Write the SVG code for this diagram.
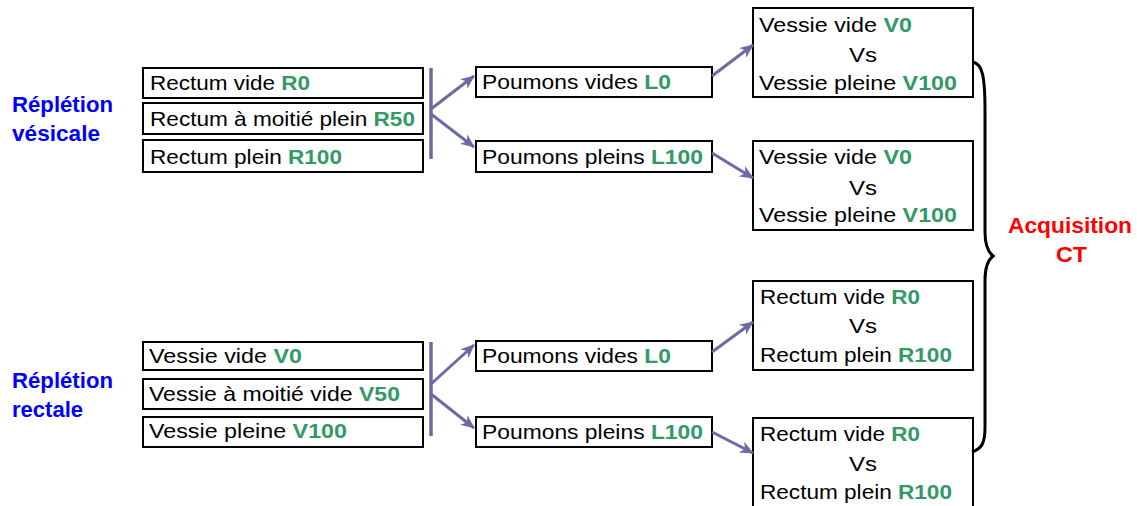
<svg xmlns="http://www.w3.org/2000/svg" width="1137" height="506" viewBox="0 0 1137 506">
<style>
.box{fill:#fff;stroke:#000;stroke-width:2}
.t{font-family:"Liberation Sans",Arial,sans-serif;font-size:21px;fill:#000}
.g{font-weight:bold;fill:#339966}
.lbl{font-family:"Liberation Sans",Arial,sans-serif;font-size:22px;font-weight:bold;fill:#0000ff}
.red{font-family:"Liberation Sans",Arial,sans-serif;font-size:22px;font-weight:bold;fill:#ff0000}
.c{stroke:#6b6ba3;stroke-width:3;fill:none}
.bar{stroke:#6b6ba3;stroke-width:3.5;fill:none}
.brace{stroke:#000;stroke-width:3;fill:none}
</style>
<defs>
<marker id="ah" viewBox="0 0 14 12" refX="13" refY="6" markerWidth="14" markerHeight="12" markerUnits="userSpaceOnUse" orient="auto">
<path d="M0,0 L14,6 L0,12 L4,6 z" fill="#6b6ba3"/>
</marker>
</defs>

<g id="label-vesicale">
<text class="lbl" x="12" y="112" textLength="101" lengthAdjust="spacingAndGlyphs">Réplétion</text>
<text class="lbl" x="12" y="141" textLength="88" lengthAdjust="spacingAndGlyphs">vésicale</text>
</g>
<g id="label-rectale">
<text class="lbl" x="12" y="388" textLength="101" lengthAdjust="spacingAndGlyphs">Réplétion</text>
<text class="lbl" x="12" y="417" textLength="71" lengthAdjust="spacingAndGlyphs">rectale</text>
</g>
<g id="label-acquisition">
<text class="red" x="1008" y="233" textLength="124" lengthAdjust="spacingAndGlyphs">Acquisition</text>
<text class="red" x="1056" y="262" textLength="31" lengthAdjust="spacingAndGlyphs">CT</text>
</g>

<g id="r0">
<rect class="box" x="143" y="68" width="280" height="30"/>
<text class="t" x="150" y="90" textLength="160" lengthAdjust="spacingAndGlyphs">Rectum vide <tspan class="g">R0</tspan></text>
</g>
<g id="r50">
<rect class="box" x="143" y="103" width="280" height="31"/>
<text class="t" x="150" y="126" textLength="265" lengthAdjust="spacingAndGlyphs">Rectum à moitié plein <tspan class="g">R50</tspan></text>
</g>
<g id="r100">
<rect class="box" x="143" y="140" width="280" height="32"/>
<text class="t" x="150" y="164" textLength="192" lengthAdjust="spacingAndGlyphs">Rectum plein <tspan class="g">R100</tspan></text>
</g>

<g id="v0">
<rect class="box" x="143" y="342" width="280" height="28"/>
<text class="t" x="149" y="363" textLength="153" lengthAdjust="spacingAndGlyphs">Vessie vide <tspan class="g">V0</tspan></text>
</g>
<g id="v50">
<rect class="box" x="143" y="379" width="280" height="30"/>
<text class="t" x="149" y="401" textLength="251" lengthAdjust="spacingAndGlyphs">Vessie à moitié vide <tspan class="g">V50</tspan></text>
</g>
<g id="v100">
<rect class="box" x="143" y="417" width="280" height="30"/>
<text class="t" x="149" y="438" textLength="198" lengthAdjust="spacingAndGlyphs">Vessie pleine <tspan class="g">V100</tspan></text>
</g>

<g id="l0-top">
<rect class="box" x="476" y="67" width="236" height="30"/>
<text class="t" x="482" y="89" textLength="189" lengthAdjust="spacingAndGlyphs">Poumons vides <tspan class="g">L0</tspan></text>
</g>
<g id="l100-top">
<rect class="box" x="476" y="141" width="236" height="31"/>
<text class="t" x="482" y="164" textLength="221" lengthAdjust="spacingAndGlyphs">Poumons pleins <tspan class="g">L100</tspan></text>
</g>
<g id="l0-bottom">
<rect class="box" x="476" y="341" width="236" height="30"/>
<text class="t" x="482" y="363" textLength="189" lengthAdjust="spacingAndGlyphs">Poumons vides <tspan class="g">L0</tspan></text>
</g>
<g id="l100-bottom">
<rect class="box" x="476" y="417" width="236" height="30"/>
<text class="t" x="482" y="439" textLength="221" lengthAdjust="spacingAndGlyphs">Poumons pleins <tspan class="g">L100</tspan></text>
</g>

<g id="vs-1">
<rect class="box" x="753" y="8" width="220" height="89"/>
<text class="t" x="759" y="32" textLength="153" lengthAdjust="spacingAndGlyphs">Vessie vide <tspan class="g">V0</tspan></text>
<text class="t" x="849" y="62" textLength="28" lengthAdjust="spacingAndGlyphs">Vs</text>
<text class="t" x="759" y="90" textLength="198" lengthAdjust="spacingAndGlyphs">Vessie pleine <tspan class="g">V100</tspan></text>
</g>
<g id="vs-2">
<rect class="box" x="753" y="141" width="220" height="89"/>
<text class="t" x="759" y="164" textLength="153" lengthAdjust="spacingAndGlyphs">Vessie vide <tspan class="g">V0</tspan></text>
<text class="t" x="849" y="195" textLength="28" lengthAdjust="spacingAndGlyphs">Vs</text>
<text class="t" x="759" y="222" textLength="198" lengthAdjust="spacingAndGlyphs">Vessie pleine <tspan class="g">V100</tspan></text>
</g>
<g id="vs-3">
<rect class="box" x="753" y="281" width="220" height="89"/>
<text class="t" x="760" y="304" textLength="160" lengthAdjust="spacingAndGlyphs">Rectum vide <tspan class="g">R0</tspan></text>
<text class="t" x="849" y="333" textLength="28" lengthAdjust="spacingAndGlyphs">Vs</text>
<text class="t" x="760" y="362" textLength="192" lengthAdjust="spacingAndGlyphs">Rectum plein <tspan class="g">R100</tspan></text>
</g>
<g id="vs-4">
<rect class="box" x="753" y="418" width="220" height="95"/>
<text class="t" x="760" y="441" textLength="160" lengthAdjust="spacingAndGlyphs">Rectum vide <tspan class="g">R0</tspan></text>
<text class="t" x="849" y="471" textLength="28" lengthAdjust="spacingAndGlyphs">Vs</text>
<text class="t" x="760" y="499" textLength="192" lengthAdjust="spacingAndGlyphs">Rectum plein <tspan class="g">R100</tspan></text>
</g>

<g id="connectors">
<line class="bar" x1="431" y1="68" x2="431" y2="159"/>
<line class="c" x1="431" y1="109" x2="474" y2="76" marker-end="url(#ah)"/>
<line class="c" x1="431" y1="114" x2="474" y2="147" marker-end="url(#ah)"/>
<line class="c" x1="712" y1="76" x2="753" y2="45" marker-end="url(#ah)"/>
<line class="c" x1="712" y1="153" x2="753" y2="178" marker-end="url(#ah)"/>
<line class="bar" x1="431" y1="342" x2="431" y2="436"/>
<line class="c" x1="431" y1="384" x2="474" y2="345" marker-end="url(#ah)"/>
<line class="c" x1="431" y1="394" x2="474" y2="428" marker-end="url(#ah)"/>
<line class="c" x1="712" y1="352" x2="753" y2="322" marker-end="url(#ah)"/>
<line class="c" x1="712" y1="432" x2="753" y2="453" marker-end="url(#ah)"/>
<path class="brace" d="M973,62 C982,64 985,75 985,110 L985,232 C985,246 988,252 993,256 C988,260 985,266 985,280 L985,428 C985,444 981,449 972,452"/>
</g>
</svg>
